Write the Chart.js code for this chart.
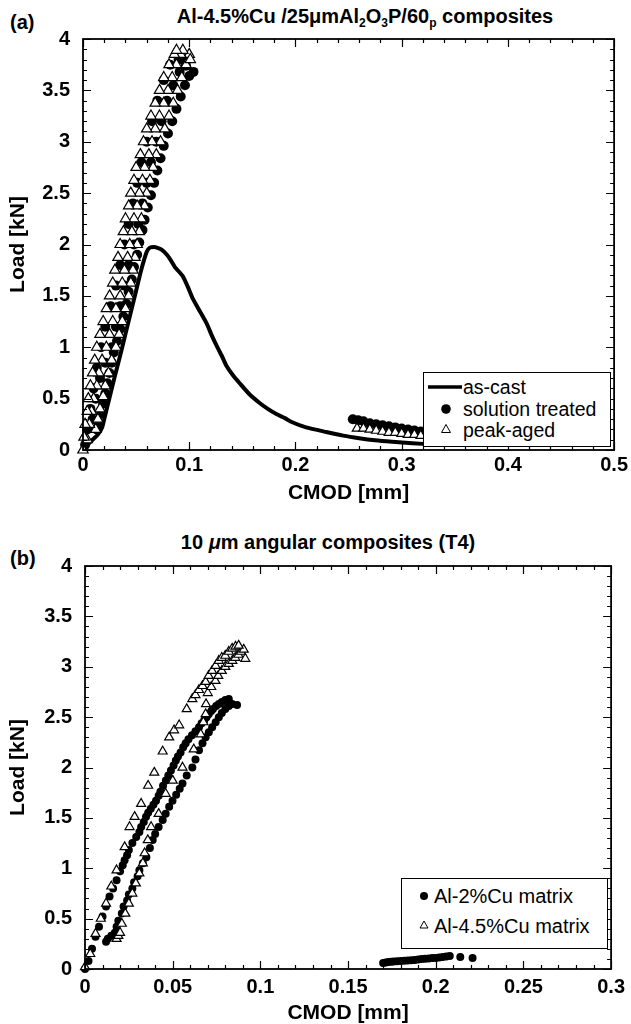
<!DOCTYPE html>
<html>
<head>
<meta charset="utf-8">
<script src="https://cdn.jsdelivr.net/npm/chart.js@4.4.0/dist/chart.umd.min.js"></script>
<style>
  body { margin: 0; background: #fff; width: 631px; height: 1024px; position: relative; overflow: hidden;
         font-family: "Liberation Sans", Arial, sans-serif; color: #000; }
  canvas { position: absolute; left: 0; }
  .title { position: absolute; font-weight: bold; font-size: 20px; white-space: nowrap; transform: translate(-50%, -50%); }
  .title sub { font-size: 12px; vertical-align: -4px; line-height: 0; }
  .tag { position: absolute; font-weight: bold; font-size: 20px; transform: translateY(-50%); }
  .legend { position: absolute; box-sizing: border-box; border: 1.5px solid #000; background: #fff; font-size: 19.5px; }
  .legend .row { position: absolute; white-space: nowrap; line-height: 20px; height: 20px; }
  .legend svg { position: absolute; }
</style>
</head>
<body>
<div class="tag" style="left:10px; top:22px;">(a)</div>
<div class="title" style="left:365px; top:16px;">Al-4.5%Cu /25μmAl<sub>2</sub>O<sub>3</sub>P/60<sub>p</sub> composites</div>
<canvas id="chartA" width="631" height="515" style="top:0;"></canvas>
<div class="legend" style="left:423px; top:372px; width:188px; height:75px;">
  <svg style="left:4px; top:11px;" width="36" height="6"><line x1="0" y1="3" x2="34" y2="3" stroke="#000" stroke-width="3.5"/></svg>
  <div class="row" style="left:39px; top:4px;">as-cast</div>
  <svg style="left:16px; top:30px;" width="12" height="12"><circle cx="6" cy="6" r="4.8" fill="#000"/></svg>
  <div class="row" style="left:39px; top:26px;">solution treated</div>
  <svg style="left:16px; top:50px;" width="12" height="12"><polygon points="6,1.5 10.5,9.5 1.5,9.5" fill="#fff" stroke="#000" stroke-width="1"/></svg>
  <div class="row" style="left:39px; top:47px;">peak-aged</div>
</div>

<div class="tag" style="left:10px; top:558px;">(b)</div>
<div class="title" style="left:328px; top:542px;">10 <i>μ</i>m angular composites (T4)</div>
<canvas id="chartB" width="631" height="509" style="top:515px;"></canvas>
<div class="legend" style="left:401px; top:878px; width:207px; height:71px; font-size:20px;">
  <svg style="left:16px; top:11px;" width="12" height="12"><circle cx="6" cy="6" r="4" fill="#000"/></svg>
  <div class="row" style="left:32px; top:7px;">Al-2%Cu matrix</div>
  <svg style="left:16px; top:40px;" width="12" height="12"><polygon points="6,2 10,9 2,9" fill="#fff" stroke="#000" stroke-width="1"/></svg>
  <div class="row" style="left:32px; top:37px;">Al-4.5%Cu matrix</div>
</div>

<script>
// ---------- tick values / labels ----------
const xTicksA = [0, 0.1, 0.2, 0.3, 0.4, 0.5];
const xLabelsA = ['0', '0.1', '0.2', '0.3', '0.4', '0.5'];
const xTicksB = [0, 0.05, 0.1, 0.15, 0.2, 0.25, 0.3];
const xLabelsB = ['0', '0.05', '0.1', '0.15', '0.2', '0.25', '0.3'];
const yTicks = [0, 0.5, 1, 1.5, 2, 2.5, 3, 3.5, 4];
const yLabels = ['0', '0.5', '1', '1.5', '2', '2.5', '3', '3.5', '4'];

// ---------- (a) Al-4.5%Cu / 25um Al2O3 [CMOD mm, load kN] ----------
const asCast = [[0,0],[0.005,0.06],[0.01,0.11],[0.014,0.15],[0.018,0.22],[0.02,0.30],[0.025,0.51],[0.03,0.72],
  [0.035,0.92],[0.04,1.13],[0.045,1.34],[0.05,1.55],[0.055,1.76],[0.06,1.93],[0.063,1.97],[0.067,1.975],
  [0.0695,1.97],[0.074,1.95],[0.079,1.90],[0.083,1.84],[0.0865,1.78],[0.09,1.74],[0.094,1.69],[0.099,1.58],
  [0.1035,1.47],[0.11,1.35],[0.1165,1.23],[0.121,1.12],[0.126,1.01],[0.131,0.91],[0.135,0.82],[0.141,0.73],
  [0.1475,0.65],[0.156,0.55],[0.166,0.46],[0.174,0.40],[0.182,0.35],[0.19,0.31],[0.197,0.27],[0.21,0.22],
  [0.229,0.175],[0.245,0.14],[0.26,0.115],[0.275,0.095],[0.291,0.08],[0.31,0.065],[0.33,0.055],[0.35,0.05]];

const solutionA1 = [[0.013,0.2],[0.015,0.25],[0.017,0.35],[0.019,0.45],[0.021,0.55],[0.023,0.65],[0.025,0.75],
  [0.027,0.85],[0.029,0.95],[0.032,1.06],[0.035,1.18],[0.038,1.3],[0.041,1.42],[0.043,1.54],[0.046,1.66],
  [0.048,1.78],[0.051,1.9],[0.053,2.02],[0.056,2.14],[0.058,2.24],[0.061,2.36],[0.064,2.48],[0.067,2.6],
  [0.070,2.72],[0.073,2.84],[0.076,2.96],[0.080,3.08],[0.084,3.2],[0.088,3.32],[0.092,3.44],[0.096,3.55],
  [0.100,3.64],[0.104,3.68]];
const solutionA2 = [[0.002,0.05],[0.004,0.2],[0.007,0.4],[0.010,0.6],[0.013,0.8],[0.017,1.0],[0.021,1.2],
  [0.026,1.4],[0.031,1.6],[0.035,1.8],[0.039,2.0],[0.043,2.2],[0.047,2.4],[0.051,2.6],[0.055,2.8],[0.060,3.0],
  [0.065,3.2],[0.070,3.4],[0.076,3.6],[0.082,3.75],[0.090,3.8],[0.096,3.78]];
const solutionA3 = [[0.009,0.3],[0.012,0.5],[0.016,0.7],[0.021,0.85],[0.027,1.0],[0.031,1.2],[0.035,1.4],
  [0.039,1.6],[0.043,1.8],[0.048,2.0],[0.052,2.2],[0.056,2.4],[0.060,2.6],[0.064,2.8],[0.069,3.0],[0.074,3.2],
  [0.079,3.4],[0.085,3.55],[0.091,3.68],[0.097,3.74]];
const solutionTail = [[0.254,0.30],[0.259,0.29],[0.264,0.28],[0.27,0.26],[0.276,0.25],[0.282,0.24],[0.288,0.23],
  [0.294,0.22],[0.30,0.21],[0.306,0.20],[0.312,0.19],[0.318,0.18]];

const peakA1 = [[0,0],[0.001,0.125],[0.002,0.25],[0.004,0.375],[0.005,0.5],[0.007,0.625],[0.009,0.75],
  [0.011,0.875],[0.013,1.0],[0.016,1.125],[0.019,1.25],[0.022,1.375],[0.025,1.5],[0.028,1.625],[0.030,1.75],
  [0.033,1.875],[0.035,2.0],[0.038,2.125],[0.040,2.25],[0.043,2.375],[0.045,2.5],[0.048,2.625],[0.050,2.75],
  [0.054,2.875],[0.057,3.0],[0.060,3.125],[0.064,3.25],[0.068,3.375],[0.072,3.5],[0.076,3.625],[0.081,3.75],
  [0.086,3.85],[0.088,3.89]];
const peakA2 = [[0.004,0.1],[0.006,0.25],[0.008,0.375],[0.010,0.5],[0.013,0.625],[0.015,0.75],[0.018,0.875],
  [0.022,1.0],[0.025,1.125],[0.028,1.25],[0.031,1.375],[0.035,1.5],[0.037,1.625],[0.039,1.75],[0.042,1.875],
  [0.044,2.0],[0.046,2.125],[0.048,2.25],[0.051,2.375],[0.053,2.5],[0.056,2.625],[0.058,2.75],[0.062,2.875],
  [0.065,3.0],[0.068,3.125],[0.072,3.25],[0.076,3.375],[0.080,3.5],[0.084,3.625],[0.088,3.75],[0.092,3.85],
  [0.094,3.89]];
const peakA3 = [[0.012,0.2],[0.014,0.3],[0.016,0.4],[0.019,0.52],[0.021,0.625],[0.024,0.75],[0.027,0.875],
  [0.031,1.0],[0.034,1.125],[0.037,1.25],[0.040,1.375],[0.043,1.5],[0.045,1.625],[0.047,1.75],[0.049,1.875],
  [0.051,2.0],[0.053,2.125],[0.055,2.25],[0.058,2.375],[0.060,2.5],[0.063,2.625],[0.066,2.75],[0.069,2.875],
  [0.073,3.0],[0.077,3.125],[0.081,3.25],[0.085,3.375],[0.089,3.5],[0.093,3.625],[0.097,3.75],[0.100,3.85],
  [0.101,3.8]];
const peakTail = [[0.258,0.21],[0.264,0.21],[0.270,0.20],[0.276,0.19],[0.282,0.18],[0.288,0.17],[0.294,0.17],
  [0.30,0.16],[0.306,0.15],[0.312,0.15],[0.318,0.14]];

// ---------- (b) 10um angular composites (T4) ----------
const cu2B1 = [[0,0],[0.002,0.08],[0.004,0.2],[0.006,0.32],[0.008,0.42],[0.010,0.52],[0.012,0.62],[0.014,0.72],
  [0.016,0.80],[0.018,0.88],[0.020,0.97],[0.0215,1.03],[0.0226,1.08],[0.024,1.13],[0.025,1.18],[0.027,1.25],
  [0.0292,1.31],[0.031,1.36],[0.032,1.41],[0.0335,1.46],[0.0348,1.51],[0.036,1.55],[0.0375,1.59],[0.039,1.63],
  [0.0405,1.67],[0.042,1.72],[0.043,1.76],[0.0445,1.82],[0.0461,1.87],[0.0475,1.92],[0.049,1.97],[0.0505,2.02],
  [0.0518,2.07],[0.053,2.11],[0.0545,2.15],[0.056,2.20],[0.0574,2.24],[0.059,2.28],[0.061,2.32],[0.063,2.36],
  [0.065,2.40],[0.0665,2.44],[0.068,2.47],[0.0693,2.50],[0.0706,2.53],[0.072,2.56],[0.073,2.58],[0.0748,2.61],
  [0.0763,2.63],[0.078,2.65],[0.080,2.67],[0.082,2.68]];
const cu2B2 = [[0.012,0.27],[0.013,0.30],[0.015,0.33],[0.017,0.36],[0.018,0.42],[0.019,0.48],[0.021,0.55],
  [0.022,0.62],[0.024,0.68],[0.025,0.74],[0.027,0.80],[0.028,0.86],[0.030,0.92],[0.031,0.98],[0.033,1.05],
  [0.035,1.11],[0.037,1.20],[0.0386,1.28],[0.040,1.34],[0.042,1.41],[0.0443,1.48],[0.046,1.54],[0.048,1.61],
  [0.0499,1.67],[0.052,1.73],[0.054,1.79],[0.0556,1.84],[0.058,1.92],[0.0612,2.00],[0.063,2.08],[0.065,2.17],
  [0.067,2.24],[0.0688,2.30],[0.0706,2.35],[0.0725,2.40],[0.0745,2.45],[0.0763,2.50],[0.078,2.54],[0.080,2.58],
  [0.082,2.61],[0.0839,2.63],[0.0867,2.62]];
const cu2Tail = [[0.170,0.06],[0.1715,0.065],[0.173,0.07],[0.1745,0.072],[0.176,0.075],[0.178,0.078],[0.180,0.08],
  [0.182,0.083],[0.184,0.085],[0.186,0.088],[0.188,0.09],[0.190,0.095],[0.192,0.10],[0.194,0.102],[0.196,0.105],
  [0.198,0.108],[0.200,0.11],[0.202,0.115],[0.204,0.12],[0.206,0.125],[0.208,0.13],[0.214,0.12],[0.221,0.11]];

const cu45B1 = [[0,0.02],[0.003,0.15],[0.006,0.35],[0.009,0.5],[0.012,0.65],[0.015,0.82],[0.018,0.98],
  [0.0226,1.21],[0.0254,1.41],[0.0283,1.51],[0.032,1.64],[0.036,1.82],[0.0395,1.95],[0.0443,2.16],[0.048,2.30],
  [0.0508,2.37],[0.0537,2.42],[0.058,2.58],[0.0612,2.68],[0.063,2.72],[0.065,2.77],[0.067,2.81],[0.0688,2.85],
  [0.0705,2.91],[0.0725,2.96],[0.0745,3.01],[0.0763,3.06],[0.078,3.09],[0.080,3.11],[0.082,3.15],[0.0839,3.18],
  [0.0858,3.20],[0.0876,3.21]];
const cu45B2 = [[0.018,0.30],[0.019,0.33],[0.020,0.36],[0.021,0.45],[0.023,0.55],[0.025,0.65],[0.027,0.75],
  [0.029,0.85],[0.031,0.95],[0.033,1.05],[0.034,1.15],[0.0358,1.28],[0.0377,1.41],[0.042,1.54],[0.046,1.74],
  [0.050,1.87],[0.0556,2.00],[0.062,2.18],[0.066,2.33],[0.0675,2.45],[0.0688,2.53],[0.069,2.63],[0.070,2.74],
  [0.072,2.80],[0.0744,2.86],[0.076,2.91],[0.078,2.96],[0.080,3.00],[0.082,3.03],[0.084,3.06],[0.0857,3.09],
  [0.0875,3.12],[0.089,3.15],[0.0905,3.17],[0.0914,3.08]];

// ---------- inward frame ticks on all four sides ----------
const frameTicks = {
  id: 'frameTicks',
  afterDraw(chart, args, opts) {
    const { ctx, chartArea: a } = chart;
    const xs = chart.scales.x, ys = chart.scales.y;
    ctx.save();
    ctx.strokeStyle = '#000';
    ctx.lineWidth = 1.2;
    ctx.beginPath();
    const xMark = (v, len) => {
      const px = Math.round(xs.getPixelForValue(v)) + 0.5;
      ctx.moveTo(px, a.bottom); ctx.lineTo(px, a.bottom - len);
      ctx.moveTo(px, a.top); ctx.lineTo(px, a.top + len);
    };
    const yMark = (v, len) => {
      const py = Math.round(ys.getPixelForValue(v)) + 0.5;
      ctx.moveTo(a.left, py); ctx.lineTo(a.left + len, py);
      ctx.moveTo(a.right, py); ctx.lineTo(a.right - len, py);
    };
    const nx = Math.round((xs.max - xs.min) / opts.xMinor);
    for (let i = 0; i <= nx; i++) xMark(xs.min + i * opts.xMinor, 4);
    const ny = Math.round((ys.max - ys.min) / opts.yMinor);
    for (let i = 0; i <= ny; i++) yMark(ys.min + i * opts.yMinor, 4);
    opts.xMajor.forEach(v => xMark(v, 8));
    opts.yMajor.forEach(v => yMark(v, 8));
    ctx.stroke();
    ctx.lineWidth = 1.8;
    ctx.strokeRect(a.left, a.top, a.right - a.left, a.bottom - a.top);
    ctx.restore();
  }
};

Chart.defaults.font.family = '"Liberation Sans", Arial, sans-serif';
Chart.defaults.color = '#000';

function pts(arr) { return arr.map(p => ({ x: p[0], y: p[1] })); }

function circles(data, r) {
  return { data: pts(data), pointStyle: 'circle', pointRadius: r, backgroundColor: '#000',
           borderColor: '#000', borderWidth: 0, showLine: false, clip: false, order: 1 };
}
function triangles(data, r) {
  return { data: pts(data), pointStyle: 'triangle', pointRadius: r, backgroundColor: '#fff',
           borderColor: '#000', borderWidth: 1.2, showLine: false, clip: false, order: 0 };
}

function makeChart(id, datasets, geo) {
  return new Chart(document.getElementById(id), {
    type: 'scatter',
    data: { datasets: datasets },
    plugins: [frameTicks],
    options: {
      responsive: false,
      animation: false,
      events: [],
      layout: { padding: { left: 0, right: geo.right, top: geo.top, bottom: 0 } },
      plugins: {
        legend: { display: false },
        tooltip: { enabled: false },
        frameTicks: { xMinor: geo.xMinor, yMinor: 0.1, xMajor: geo.xTicks, yMajor: yTicks }
      },
      scales: {
        x: {
          type: 'linear', min: 0, max: geo.xMax,
          afterBuildTicks: s => { s.ticks = geo.xTicks.map(v => ({ value: v })); },
          afterFit: s => { s.height = geo.xHeight; },
          grid: { display: false, drawTicks: false },
          border: { display: false },
          ticks: { autoSkip: false, maxRotation: 0, padding: geo.xPad, color: '#000',
                   font: { size: 20, weight: 'bold' }, callback: (v, i) => geo.xLabels[i] },
          title: { display: true, text: 'CMOD [mm]', color: '#000',
                   font: { size: 21, weight: 'bold', lineHeight: 1 }, padding: { top: 0, bottom: geo.titlePad } }
        },
        y: {
          type: 'linear', min: 0, max: 4,
          afterBuildTicks: s => { s.ticks = yTicks.map(v => ({ value: v })); },
          afterFit: s => { s.width = geo.left; },
          grid: { display: false, drawTicks: false },
          border: { display: false },
          ticks: { autoSkip: false, padding: 13, color: '#000',
                   font: { size: 20, weight: 'bold' }, callback: (v, i) => yLabels[i] },
          title: { display: true, text: 'Load [kN]', color: '#000',
                   font: { size: 21, weight: 'bold', lineHeight: 1 }, padding: { top: 8, bottom: 0 } }
        }
      }
    }
  });
}

makeChart('chartA', [
  triangles(peakA1, 6), triangles(peakA2, 6), triangles(peakA3, 6), triangles(peakTail, 5.5),
  circles(solutionA1, 5), circles(solutionA2, 5), circles(solutionA3, 5), circles(solutionTail, 5),
  { data: pts(asCast), showLine: true, borderColor: '#000', borderWidth: 4, pointRadius: 0,
    tension: 0.2, clip: false, order: 2 }
], { left: 83, right: 16, top: 39, xHeight: 65, xMax: 0.5, xTicks: xTicksA, xLabels: xLabelsA,
     xMinor: 0.02, xPad: 3, titlePad: 11 });

makeChart('chartB', [
  triangles(cu45B1, 5.2), triangles(cu45B2, 5.2),
  circles(cu2B1, 4), circles(cu2B2, 4), circles(cu2Tail, 4)
], { left: 85, right: 15, top: 51, xHeight: 55, xMax: 0.3, xTicks: xTicksB, xLabels: xLabelsB,
     xMinor: 0.01, xPad: 6, titlePad: 0 });
</script>
</body>
</html>
